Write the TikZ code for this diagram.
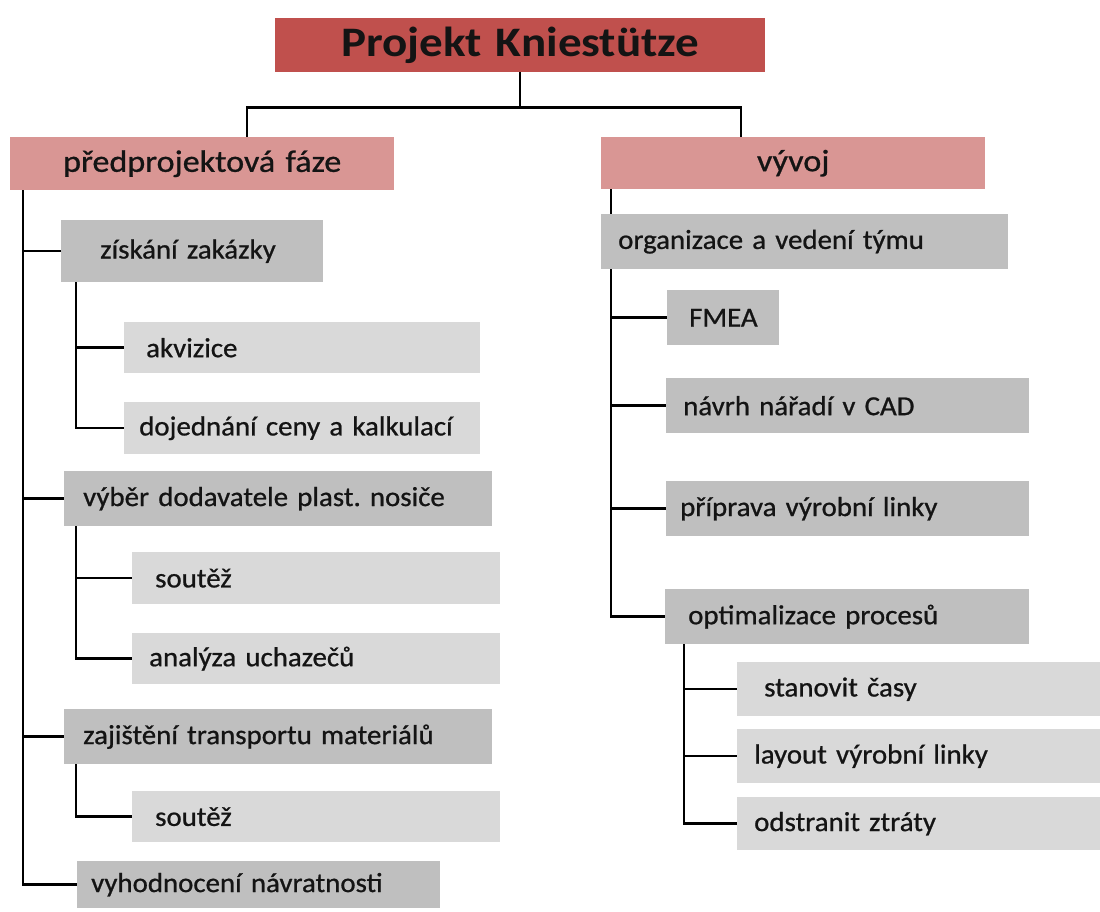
\documentclass[tikz,border=0pt]{standalone}
\usepackage{fontspec}
\setmainfont{Carlito}
\newfontfamily\rootfont[FakeStretch=1.12, WordSpace=0.85]{Carlito}
\newfontfamily\phasefont[FakeStretch=1.1, FakeBold=0.8, WordSpace=0.85]{Carlito}
\newfontfamily\bodyfont[FakeStretch=1.05, FakeBold=0.8, WordSpace=0.85]{Carlito}
\usetikzlibrary{backgrounds}
\frenchspacing

\definecolor{rootred}{HTML}{C0504D}
\definecolor{phasepink}{HTML}{D99694}
\definecolor{taskgray}{HTML}{BFBFBF}
\definecolor{subgray}{HTML}{D9D9D9}
\definecolor{ink}{HTML}{141414}

% \wbsnode{name}{x}{y}{width}{height}{left padding}{style}{text}
\newcommand\wbsnode[8]{%
  \pgfmathsetmacro\wbstw{#4-2*#6}%
  \node[#7, anchor=north west, minimum width=#4, minimum height=#5,
        inner xsep=#6, inner ysep=0pt, text width=\wbstw pt] (#1) at (#2,#3) {#8};}

\tikzset{
  rootbox/.style={fill=rootred, text=ink, align=center, font=\rootfont\fontsize{42}{46}\selectfont\bfseries},
  phasebox/.style={fill=phasepink, text=ink, align=center, font=\phasefont\fontsize{31}{34}\selectfont},
  taskbox/.style={fill=taskgray, text=ink, align=left, font=\bodyfont\fontsize{27.5}{30}\selectfont},
  subbox/.style={fill=subgray, text=ink, align=left, font=\bodyfont\fontsize{27.5}{30}\selectfont},
  link/.style={draw=black, line width=2.5pt},
}

\begin{document}
\begin{tikzpicture}[x=1pt, y=-1pt]
\useasboundingbox (0,0) rectangle (1100,911);

% top level
\wbsnode{root}{275}{18}{490}{54}{5}{rootbox}{Projekt Kniestütze}
\wbsnode{pf}{10}{137}{384}{53}{5}{phasebox}{předprojektová fáze}
\wbsnode{vy}{601}{137}{384}{52}{5}{phasebox}{vývoj}

% left branch
\wbsnode{zisk}{61}{220}{262}{62}{39}{taskbox}{získání zakázky}
\wbsnode{akv}{124}{322}{356}{51}{22}{subbox}{akvizice}
\wbsnode{doj}{124}{402}{356}{52}{15}{subbox}{dojednání ceny a kalkulací}
\wbsnode{vyb}{64}{471}{428}{55}{19}{taskbox}{výběr dodavatele plast. nosiče}
\wbsnode{sou}{132}{552}{368}{52}{23}{subbox}{soutěž}
\wbsnode{ana}{132}{633}{368}{51}{17}{subbox}{analýza uchazečů}
\wbsnode{zaj}{64}{709}{428}{55}{19}{taskbox}{zajištění transportu materiálů}
\wbsnode{soub}{132}{791}{368}{51}{23}{subbox}{soutěž}
\wbsnode{vyh}{77}{861}{363}{47}{14}{taskbox}{vyhodnocení návratnosti}

% right branch
\wbsnode{org}{601}{214}{407}{55}{17}{taskbox}{organizace a vedení týmu}
\wbsnode{fmea}{667}{290}{112}{55}{22}{taskbox}{FMEA}
\wbsnode{nav}{666}{378}{363}{55}{17}{taskbox}{návrh nářadí v CAD}
\wbsnode{pri}{666}{481}{363}{55}{14}{taskbox}{příprava výrobní linky}
\wbsnode{opt}{665}{589}{364}{55}{23}{taskbox}{optimalizace procesů}
\wbsnode{sta}{737}{662}{363}{54}{27}{subbox}{stanovit časy}
\wbsnode{lay}{737}{729}{363}{54}{17}{subbox}{layout výrobní linky}
\wbsnode{ods}{737}{797}{363}{53}{17}{subbox}{odstranit ztráty}

\begin{scope}[on background layer]
  \fill[white] (0,0) rectangle (1100,911);

  % root to phases
  \coordinate (jn) at ([yshift=-35pt]root.south);
  \draw[link] (root.south) -- (jn);
  \draw[link] (jn) -| ([xshift=237pt]pf.north west);
  \draw[link] (jn) -| ([xshift=140pt]vy.north west);

  % small marks above the phase boxes
  \draw[line width=1.5pt] ([xshift=187pt]pf.north west) -- ++(0,4);
  \draw[line width=1.5pt] ([xshift=31pt]vy.north west) -- ++(0,4);

  % left spine
  \foreach \c in {zisk, vyb, zaj, vyh}
    \draw[link] ([xshift=13pt]pf.south west) |- (\c.west);
  \foreach \c in {akv, doj}
    \draw[link] ([xshift=15pt]zisk.south west) |- (\c.west);
  \foreach \c in {sou, ana}
    \draw[link] ([xshift=12pt]vyb.south west) |- (\c.west);
  \draw[link] ([xshift=12pt]zaj.south west) |- (soub.west);

  % right spine
  \foreach \c in {fmea, nav, pri, opt}
    \draw[link] ([xshift=10pt]vy.south west) |- (\c.west);
  \foreach \c in {sta, lay, ods}
    \draw[link] ([xshift=19pt]opt.south west) |- (\c.west);
\end{scope}
\end{tikzpicture}
\end{document}
